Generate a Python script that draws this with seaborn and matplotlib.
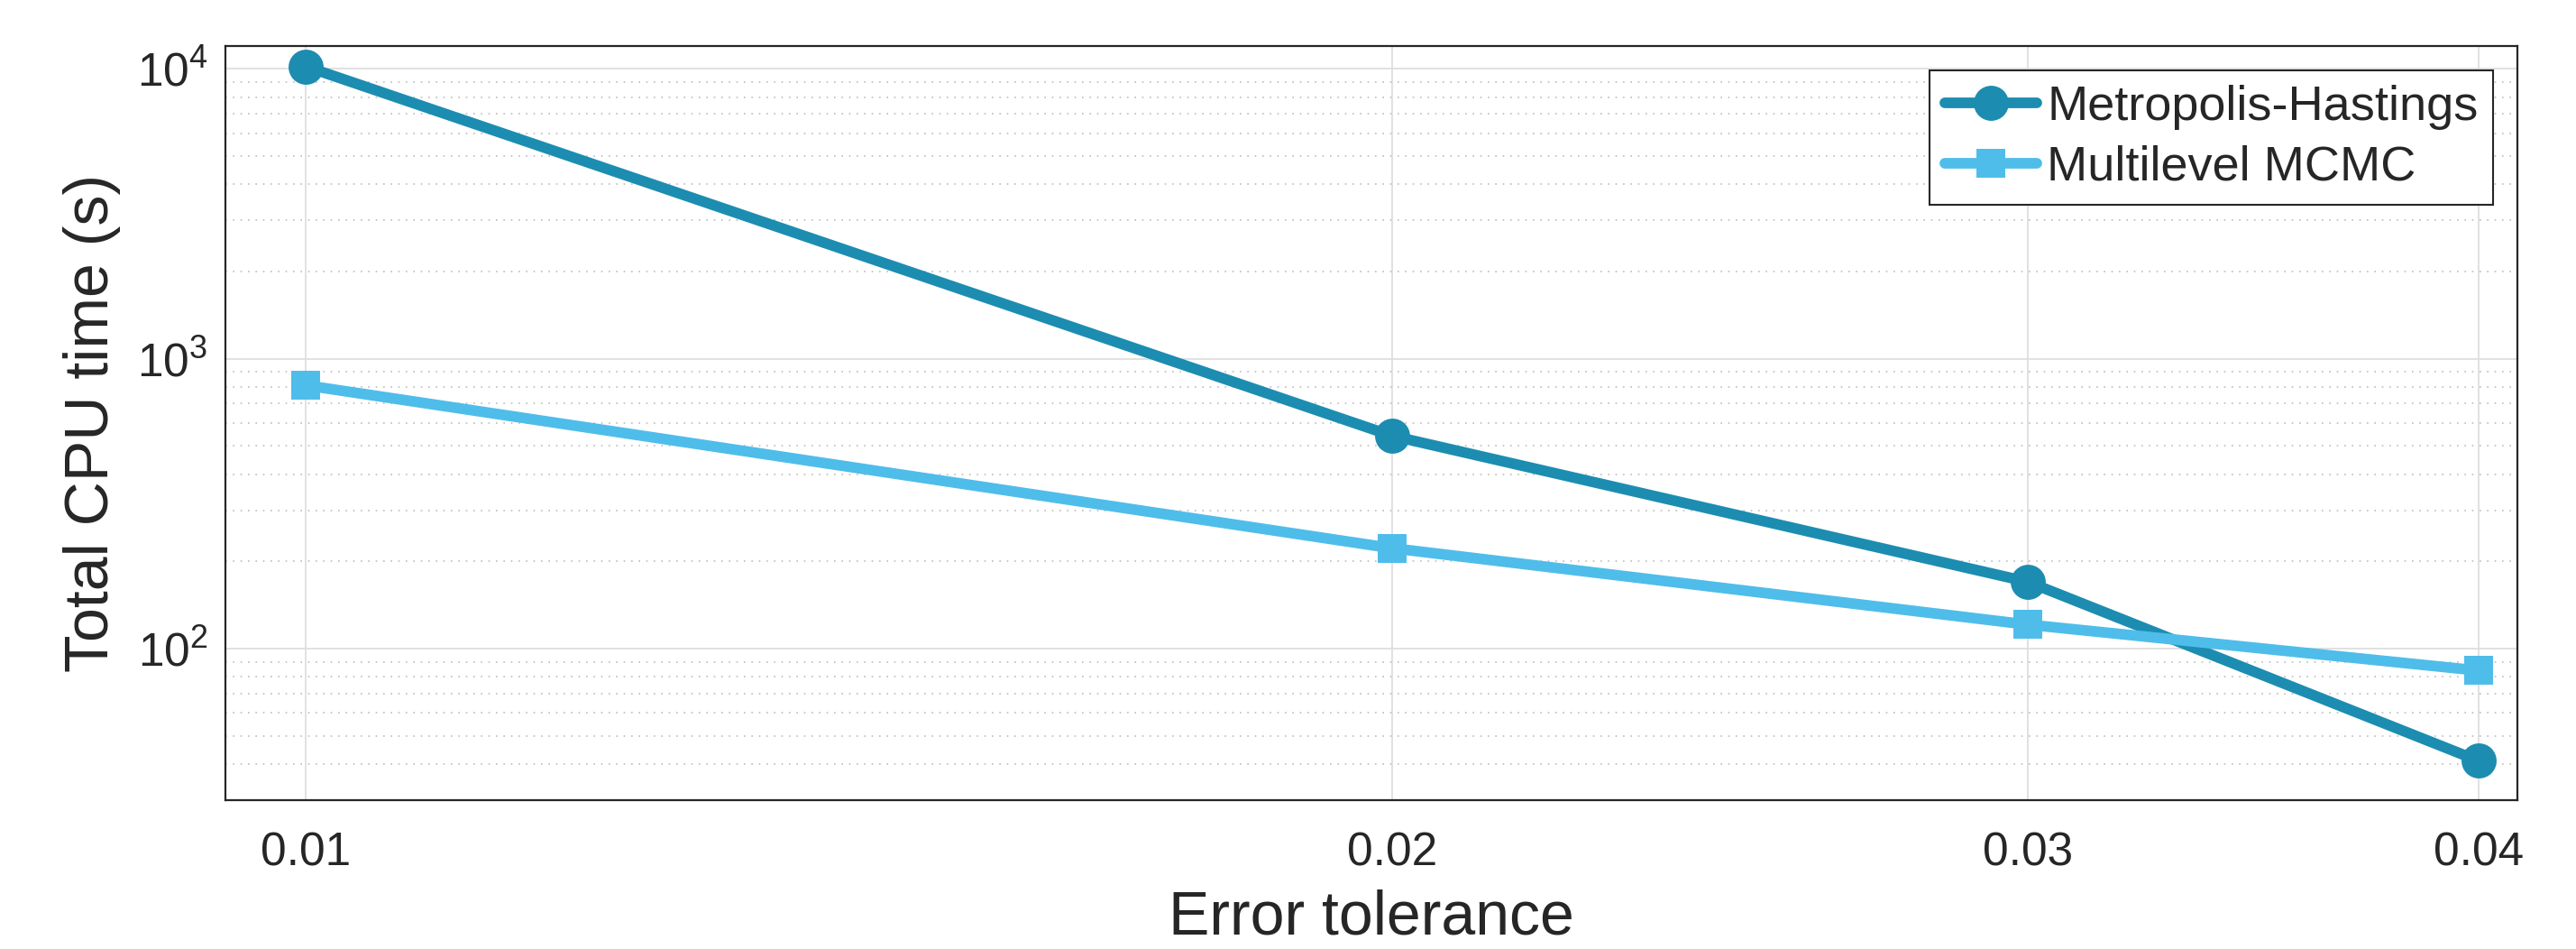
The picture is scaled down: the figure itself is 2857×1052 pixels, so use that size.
import numpy as np
import pandas as pd
import seaborn as sns
import matplotlib
matplotlib.use("Agg")
import matplotlib.pyplot as plt
from matplotlib.ticker import LogLocator, NullLocator, FixedLocator, FixedFormatter, NullFormatter

# ---- data ----
tolerance = [0.01, 0.02, 0.03, 0.04]
mh_time = [10200, 542, 170, 41]
mlmcmc_time = [810, 222, 121, 84]
series_names = ["Metropolis-Hastings", "Multilevel MCMC"]
xtick_values = [0.01, 0.02, 0.03, 0.04]
xtick_labels = ["0.01", "0.02", "0.03", "0.04"]

colors = {"Metropolis-Hastings": "#1C8DB1", "Multilevel MCMC": "#4FBDEA"}
markers = {"Metropolis-Hastings": "o", "Multilevel MCMC": "s"}
msizes = {"Metropolis-Hastings": 28, "Multilevel MCMC": 23}

df = pd.DataFrame({
    "tol": tolerance * 2,
    "time": mh_time + mlmcmc_time,
    "method": [series_names[0]] * len(tolerance) + [series_names[1]] * len(tolerance),
})

sns.set_style("white")
plt.rcParams["font.family"] = ["Liberation Sans", "DejaVu Sans"]
plt.rcParams["mathtext.fontset"] = "custom"
plt.rcParams["mathtext.rm"] = "Liberation Sans"
plt.rcParams["mathtext.it"] = "Liberation Sans:italic"
plt.rcParams["mathtext.bf"] = "Liberation Sans:bold"

W, H = 2857, 1052
fig = plt.figure(figsize=(W / 100, H / 100), dpi=100)
ax = fig.add_axes([250 / W, 1 - 887 / H, (2792 - 250) / W, (887 - 51) / H])
ax.set_xscale("log")
ax.set_yscale("log")

for name in series_names:
    sub = df[df["method"] == name]
    sns.lineplot(data=sub, x="tol", y="time", ax=ax, color=colors[name],
                 marker=markers[name], markersize=msizes[name], markeredgewidth=0,
                 linewidth=8.5, errorbar=None, label=name, legend=False)

ax.set_xlim(0.0095, 0.041)
ax.set_ylim(30, 12000)

ax.xaxis.set_major_locator(FixedLocator(xtick_values))
ax.xaxis.set_major_formatter(FixedFormatter(xtick_labels))
ax.xaxis.set_minor_locator(NullLocator())
ax.yaxis.set_major_locator(LogLocator(base=10))
ax.yaxis.set_minor_locator(LogLocator(base=10, subs=np.arange(2, 10)))
ax.yaxis.set_minor_formatter(NullFormatter())

ax.set_axisbelow(True)
ax.grid(which="major", color="#dedede", linewidth=1.3, linestyle="-")
ax.grid(which="minor", axis="y", color="#bdbdbd", linewidth=1.2, linestyle=(0, (1, 4)))

for s in ax.spines.values():
    s.set_visible(True)
    s.set_color("#262626")
    s.set_linewidth(1.6)

ax.tick_params(axis="both", which="both", length=0, labelsize=37, colors="#262626")
ax.tick_params(axis="x", pad=25)
ax.tick_params(axis="y", pad=14)

ax.set_xlabel("Error tolerance", fontsize=49, color="#262626", labelpad=11)
ax.set_ylabel("Total CPU time (s)", fontsize=49, color="#262626", labelpad=13)

leg = ax.legend(loc="upper right", fontsize=39, frameon=True, fancybox=False,
                edgecolor="#262626", framealpha=1, borderpad=0.3, handlelength=1.9,
                handletextpad=0.2, labelspacing=0.3, borderaxespad=0.5, numpoints=1)
leg.get_frame().set_linewidth(1.5)

fig.savefig("out.png", dpi=100, facecolor="white")
